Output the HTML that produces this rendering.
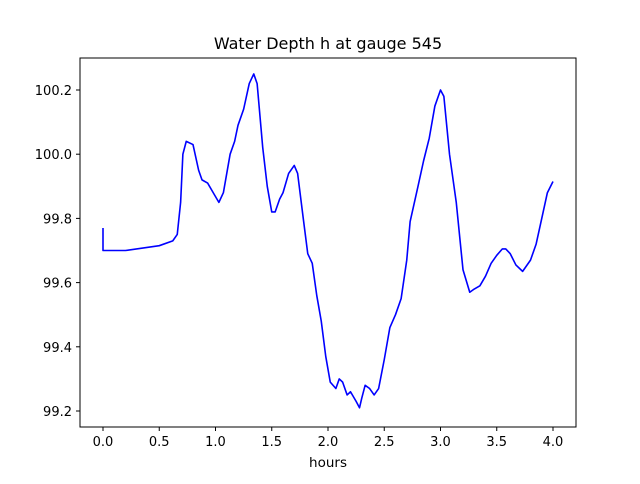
<!DOCTYPE html>
<html><head><meta charset="utf-8"><style>
body{margin:0;background:#fff;font-family:"DejaVu Sans","Liberation Sans",sans-serif}
svg text{font-family:"DejaVu Sans","Liberation Sans",sans-serif;fill:#000}
</style></head><body>
<svg id="chart" width="640" height="480">
<rect x="0" y="0" width="640" height="480" fill="#fff"/>
<text x="328" y="49" font-size="16" text-anchor="middle">Water Depth h at gauge 545</text>
<g id="xt"></g>
<g id="yt"></g>
<polyline id="line" fill="none" stroke="#0000ff" stroke-width="1.6" stroke-linejoin="round"/>
<rect x="80" y="58" width="496" height="369" fill="none" stroke="#000" stroke-width="1"/>
<text x="328" y="467" font-size="13.5" text-anchor="middle">hours</text>
</svg>
<script>
const hours=[0,0,0.2,0.5,0.62,0.66,0.69,0.71,0.74,0.8,0.85,0.88,0.93,0.98,1.03,1.07,1.13,1.17,1.2,1.25,1.3,1.34,1.37,1.42,1.46,1.5,1.53,1.57,1.6,1.65,1.7,1.73,1.78,1.82,1.86,1.9,1.94,1.98,2.02,2.07,2.1,2.13,2.17,2.2,2.25,2.28,2.3,2.33,2.37,2.41,2.45,2.5,2.55,2.6,2.65,2.7,2.73,2.8,2.85,2.9,2.95,3.0,3.03,3.08,3.14,3.2,3.26,3.3,3.35,3.4,3.45,3.5,3.55,3.58,3.62,3.67,3.73,3.8,3.85,3.9,3.95,4.0];
const depth=[99.77,99.70,99.70,99.715,99.73,99.75,99.85,100.0,100.04,100.03,99.95,99.92,99.91,99.88,99.85,99.88,100.0,100.04,100.09,100.14,100.22,100.25,100.22,100.02,99.9,99.82,99.82,99.86,99.88,99.94,99.965,99.94,99.8,99.69,99.66,99.56,99.48,99.37,99.29,99.27,99.30,99.29,99.25,99.26,99.23,99.21,99.24,99.28,99.27,99.25,99.27,99.36,99.46,99.50,99.55,99.67,99.79,99.90,99.98,100.05,100.15,100.2,100.18,100.0,99.85,99.64,99.57,99.58,99.59,99.62,99.66,99.685,99.705,99.705,99.69,99.655,99.635,99.67,99.72,99.8,99.88,99.915];
const xTicks=[0,0.5,1,1.5,2,2.5,3,3.5,4];
const xTickLabels=["0.0","0.5","1.0","1.5","2.0","2.5","3.0","3.5","4.0"];
const yTicks=[99.2,99.4,99.6,99.8,100.0,100.2];
const yTickLabels=["99.2","99.4","99.6","99.8","100.0","100.2"];
const NS="http://www.w3.org/2000/svg";
const X=v=>103+v*112.5;
const Y=v=>411-(v-99.2)*321;
const xt=document.getElementById('xt'),yt=document.getElementById('yt');
xTicks.forEach((v,i)=>{
 const l=document.createElementNS(NS,'line');
 
 
 l.setAttribute('x1',X(v));l.setAttribute('x2',X(v));l.setAttribute('y1',427);l.setAttribute('y2',431);l.setAttribute('stroke','#000');
 xt.appendChild(l);
 const t=document.createElementNS(NS,'text');
 
 
 t.setAttribute('x',X(v));t.setAttribute('y',446);t.setAttribute('font-size','13');t.setAttribute('text-anchor','middle');
 t.textContent=xTickLabels[i];xt.appendChild(t);
});
yTicks.forEach((v,i)=>{
 const l=document.createElementNS(NS,'line');
 
 
 l.setAttribute('x1',76);l.setAttribute('x2',80);l.setAttribute('y1',Y(v));l.setAttribute('y2',Y(v));l.setAttribute('stroke','#000');
 yt.appendChild(l);
 const t=document.createElementNS(NS,'text');
 
 
 t.setAttribute('x',72);t.setAttribute('y',Y(v)+5);t.setAttribute('font-size','13');t.setAttribute('text-anchor','end');
 t.textContent=yTickLabels[i];yt.appendChild(t);
});
document.getElementById('line').setAttribute('points',hours.map((h,i)=>X(h)+','+Y(depth[i])).join(' '));
</script>
</body></html>
